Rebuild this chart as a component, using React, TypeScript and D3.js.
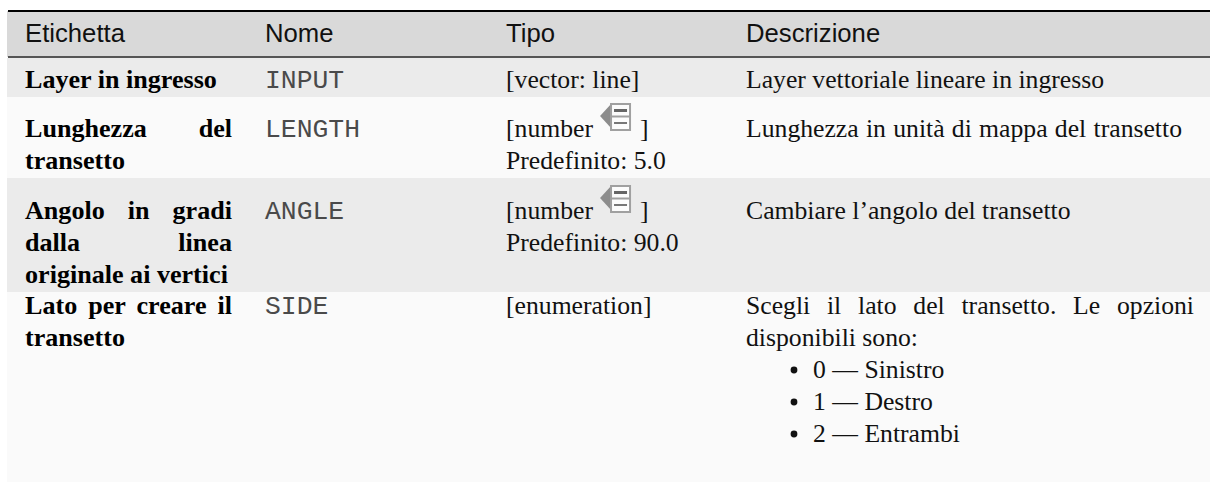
import { useEffect, useRef } from 'react';
import * as d3 from 'd3';

const headers = ['Etichetta', 'Nome', 'Tipo', 'Descrizione'];
const labels = [
  ['Layer in ingresso'],
  ['Lunghezza del', 'transetto'],
  ['Angolo in gradi', 'dalla linea', 'originale ai vertici'],
  ['Lato per creare il', 'transetto'],
];
const names = ['INPUT', 'LENGTH', 'ANGLE', 'SIDE'];
const types = [
  ['[vector: line]'],
  ['[number', 'Predefinito: 5.0'],
  ['[number', 'Predefinito: 90.0'],
  ['[enumeration]'],
];
const descriptions = [
  ['Layer vettoriale lineare in ingresso'],
  ['Lunghezza in unità di mappa del transetto'],
  ['Cambiare l’angolo del transetto'],
  ['Scegli il lato del transetto. Le opzioni', 'disponibili sono:'],
];
const options = ['0 — Sinistro', '1 — Destro', '2 — Entrambi'];

const rowEdges = [58, 97, 178, 292, 482];
const columnX = [25, 265, 506, 746];
const LABEL_RIGHT = 232;
const DESC_RIGHT = 1194;
const LENGTH_DESC_RIGHT = 1182;
const LINE = 32;

const SERIF = '"Liberation Serif", serif';
const SANS = '"Liberation Sans", sans-serif';
const MONO = '"Liberation Mono", monospace';

// spread the words of a line so that it ends on the right edge of its cell
function justify(sel: d3.Selection<SVGTextElement, unknown, null, undefined>, width: number) {
  const node = sel.node();
  if (!node) return;
  const gaps = sel.text().split(' ').length - 1;
  if (gaps > 0) sel.attr('word-spacing', (width - node.getComputedTextLength()) / gaps);
}

function drawIcon(g: d3.Selection<SVGGElement, unknown, null, undefined>, x: number, y: number) {
  const icon = g.append('g').attr('transform', `translate(${x},${y})`);
  icon.append('path').attr('d', 'M11 1 L0 13 L11 25 Z').attr('fill', '#8c8c8c');
  icon.append('rect').attr('x', 11).attr('y', 1).attr('width', 19).attr('height', 26)
    .attr('fill', '#fcfcfc').attr('stroke', '#a0a0a0').attr('stroke-width', 2);
  icon.append('line').attr('x1', 11).attr('x2', 30).attr('y1', 13.5).attr('y2', 13.5).attr('stroke', '#a0a0a0').attr('stroke-width', 2);
  icon.append('rect').attr('x', 14).attr('y', 6).attr('width', 13).attr('height', 3).attr('fill', '#666');
  icon.append('rect').attr('x', 14).attr('y', 19).attr('width', 13).attr('height', 2).attr('fill', '#777');
}

export default function App() {
  const svgRef = useRef<SVGSVGElement>(null);

  useEffect(() => {
    if (!svgRef.current) return;
    const svg = d3.select(svgRef.current);
    svg.selectAll('*').remove();
    const g = svg.append('g') as d3.Selection<SVGGElement, unknown, null, undefined>;

    // Backgrounds
    g.append('rect').attr('x', 7).attr('y', 11).attr('width', 1203).attr('height', 46).attr('fill', '#d9d9d9');
    labels.forEach((_, i) => {
      g.append('rect')
        .attr('x', 7).attr('y', rowEdges[i])
        .attr('width', 1203).attr('height', rowEdges[i + 1] - rowEdges[i])
        .attr('fill', i % 2 === 0 ? '#ebebeb' : '#fafafa');
    });
    g.append('rect').attr('x', 8).attr('y', 10).attr('width', 1202).attr('height', 2).attr('fill', '#000');
    g.append('rect').attr('x', 8).attr('y', 56).attr('width', 1202).attr('height', 2).attr('fill', '#555');

    const put = (x: number, y: number, s: string, font: string, weight = 'normal', fill = '#111') =>
      g.append('text')
        .attr('x', x).attr('y', y)
        .attr('font-family', font)
        .attr('font-size', font === MONO ? 26.4 : weight === 'bold' ? 26.1 : 25.7)
        .attr('font-weight', weight)
        .attr('fill', fill)
        .attr('xml:space', 'preserve')
        .text(s) as unknown as d3.Selection<SVGTextElement, unknown, null, undefined>;

    headers.forEach((h, i) => put(columnX[i], 42, h, SANS));

    const firstBaseline = [88, 137, 219, 314];
    labels.forEach((lines, r) => {
      const y0 = firstBaseline[r];
      lines.forEach((line, l) => {
        const t = put(columnX[0], y0 + l * LINE, line, SERIF, 'bold', '#000');
        if (l < lines.length - 1) justify(t, LABEL_RIGHT - columnX[0]);
      });
      put(columnX[1], y0, names[r], MONO, 'normal', '#4a4a4a');
      types[r].forEach((line, l) => {
        const t = put(columnX[2], y0 + l * LINE, line, SERIF);
        if (line === '[number') {
          const right = columnX[2] + (t.node() as SVGTextElement).getComputedTextLength();
          drawIcon(g, right + 7, y0 - 34);
          put(right + 47, y0, ']', SERIF);
        }
      });
      descriptions[r].forEach((line, l) => {
        const t = put(columnX[3], y0 + l * LINE, line, SERIF);
        if (l < descriptions[r].length - 1) justify(t, DESC_RIGHT - columnX[3]);
        if (r === 1) justify(t, LENGTH_DESC_RIGHT - columnX[3]);
      });
    });

    options.forEach((o, i) => {
      const y = firstBaseline[3] + (i + 2) * LINE;
      g.append('circle').attr('cx', 794).attr('cy', y - 8).attr('r', 3.4).attr('fill', '#111');
      put(813, y, o, SERIF);
    });
  }, []);

  return (
    <svg
      ref={svgRef}
      width={1210}
      height={482}
      style={{ position: 'absolute', left: 0, top: 0, display: 'block', background: '#fff' }}
    />
  );
}
